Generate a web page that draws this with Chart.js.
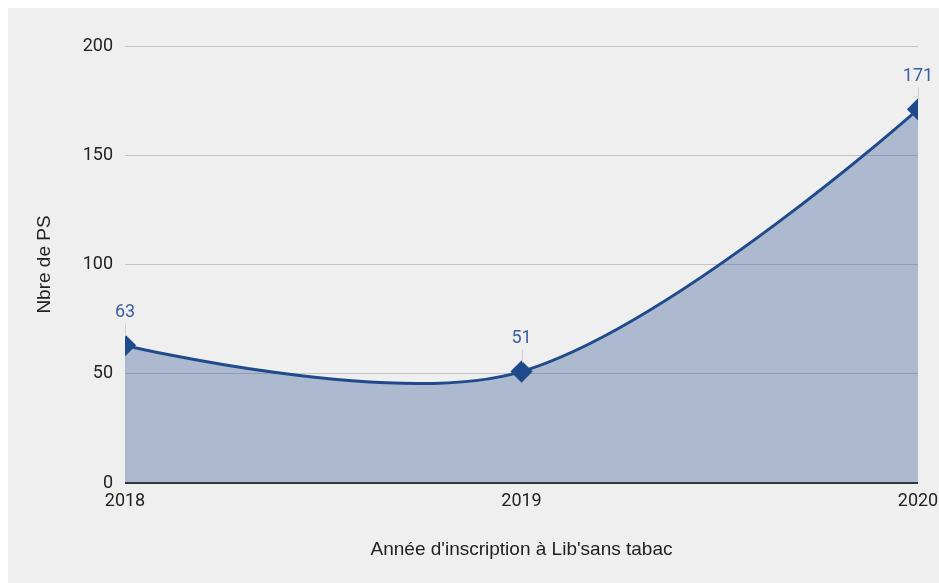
<!DOCTYPE html>
<html>
<head>
<meta charset="utf-8">
<script src="https://cdn.jsdelivr.net/npm/chart.js@4"></script>
<style>
    body { margin: 8px 0 0 8px; overflow: hidden; }
    .chart-box { width: 931px; height: 575px; background: #efefef; position: relative; }
</style>
</head>
<body>
<div class="chart-box"><canvas id="chart"></canvas></div>
<script>
// Data
const years = ['2018', '2019', '2020'];
const nbrePS = [63, 51, 171];
const yTicks = [0, 50, 100, 150, 200];

const lineColor = '#1f4a8c';

// The original curve leaves the end points with no handle: pin the outer
// control points onto the end points (runs after the filler computed them,
// before the fill and the line are painted)
const flatEnds = {
    id: 'flatEnds',
    beforeDatasetsDraw(chart) {
        const meta = chart.getDatasetMeta(0);
        meta.dataset.updateControlPoints(chart.chartArea, 'x');
        const pts = meta.data;
        if (!pts.length) return;
        const first = pts[0], last = pts[pts.length - 1];
        first.cp2x = first.x; first.cp2y = first.y;
        last.cp1x = last.x; last.cp1y = last.y;
        meta.dataset._path = undefined;
    }
};

// Labels above each point, with a thin leader line
const pointLabels = {
    id: 'pointLabels',
    afterDatasetsDraw(chart) {
        const ctx = chart.ctx;
        const meta = chart.getDatasetMeta(0);
        ctx.save();
        meta.data.forEach((pt, i) => {
            ctx.strokeStyle = '#cfcfcf';
            ctx.lineWidth = 1;
            ctx.beginPath();
            ctx.moveTo(Math.round(pt.x) + 0.5, pt.y - 9);
            ctx.lineTo(Math.round(pt.x) + 0.5, pt.y - 22);
            ctx.stroke();
            ctx.fillStyle = '#3a5f9e';
            ctx.font = '18px Roboto';
            ctx.textAlign = 'center';
            ctx.textBaseline = 'middle';
            ctx.fillText(nbrePS[i], pt.x, pt.y - 33);
        });
        ctx.restore();
    }
};

new Chart(document.getElementById('chart'), {
    type: 'line',
    data: {
        labels: years,
        datasets: [{
            data: nbrePS,
            borderColor: lineColor,
            borderWidth: 3,
            backgroundColor: 'rgba(31, 73, 140, 0.32)',
            fill: 'origin',
            tension: 0.35,
            clip: 0,
            pointStyle: 'rectRot',
            pointRadius: 9,
            pointBackgroundColor: lineColor,
            pointBorderColor: lineColor
        }]
    },
    options: {
        responsive: true,
        maintainAspectRatio: false,
        animation: false,
        events: [],
        layout: { padding: { top: 38, right: 21, left: 0, bottom: 0 } },
        plugins: {
            legend: { display: false },
            tooltip: { enabled: false }
        },
        scales: {
            x: {
                offset: false,
                grid: { display: false, drawTicks: false },
                border: { display: false },
                ticks: { color: '#222', font: { family: 'Roboto', size: 18 }, padding: 8, maxRotation: 0 },
                title: {
                    display: true,
                    text: "Année d'inscription à Lib'sans tabac",
                    color: '#222',
                    font: { family: 'Liberation Sans', size: 19 },
                    padding: { top: 0, bottom: 22 }
                },
                afterFit(scale) {
                    scale.height = 100;
                    scale.paddingLeft = 0;
                    scale.paddingRight = 0;
                }
            },
            y: {
                min: 0,
                max: 200,
                afterBuildTicks(scale) { scale.ticks = yTicks.map(v => ({ value: v })); },
                grid: {
                    drawTicks: false,
                    color: ctx => ctx.tick && ctx.tick.value === 0 ? '#333' : '#c4c4c4',
                    lineWidth: ctx => ctx.tick && ctx.tick.value === 0 ? 2 : 1
                },
                border: { display: false },
                ticks: { color: '#222', font: { family: 'Roboto', size: 18 }, padding: 12 },
                title: {
                    display: true,
                    text: 'Nbre de PS',
                    color: '#222',
                    font: { family: 'Liberation Sans', size: 19 },
                    padding: { top: 25, bottom: 0 }
                },
                afterFit(scale) { scale.width = 117; }
            }
        }
    },
    plugins: [flatEnds, pointLabels]
});
</script>
</body>
</html>
